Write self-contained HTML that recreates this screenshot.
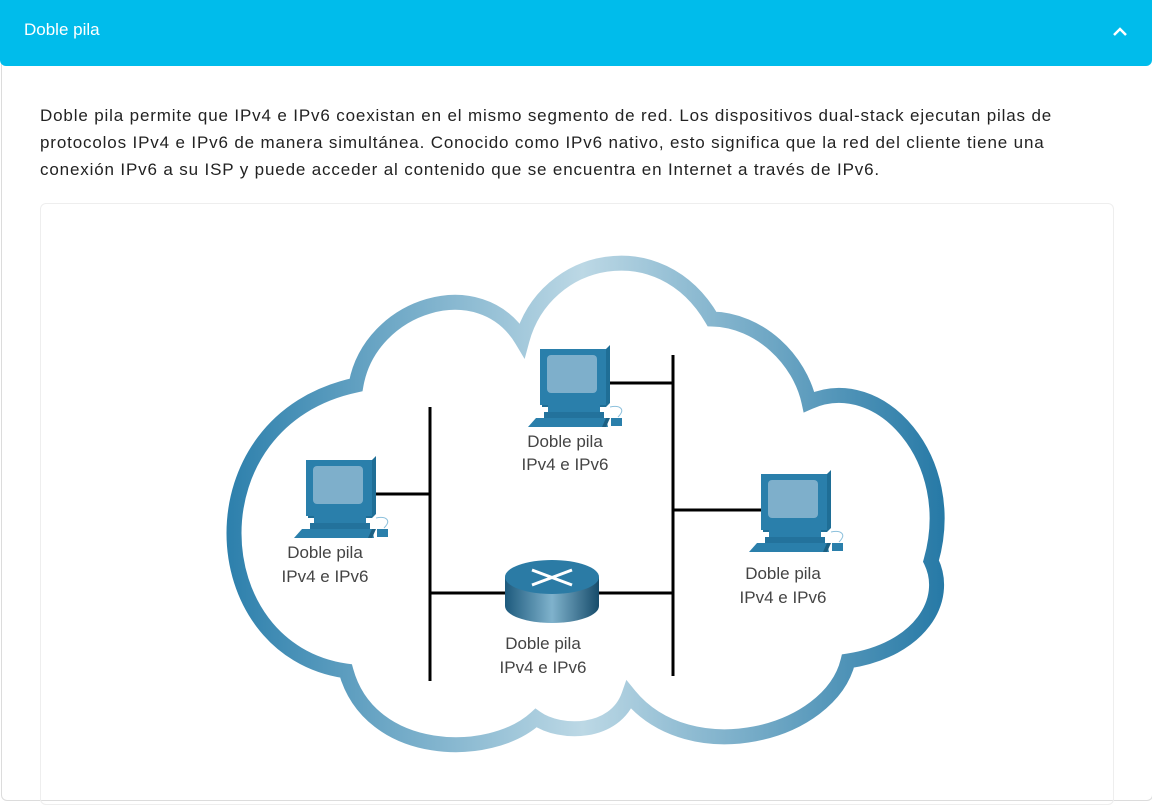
<!DOCTYPE html>
<html><head><meta charset="utf-8"><style>
body{margin:0;width:1152px;height:778px;overflow:hidden;background:#fff;font-family:"Liberation Sans",sans-serif;}
.panel{position:absolute;left:1px;top:0;width:1150px;height:800px;border:1px solid #dcdcdc;border-top:none;border-radius:6px;}
.hdr{position:absolute;left:0;top:0;width:1152px;height:66px;background:#00bceb;border-radius:0 0 6px 6px;}
.hdr span{position:absolute;left:24px;top:20px;color:#fff;font-size:17px;}
.txt{position:absolute;left:40px;top:102px;width:1035px;font-size:17px;line-height:27px;color:#222;letter-spacing:0.85px;}
.box{position:absolute;left:40px;top:203px;width:1072px;height:600px;border:1px solid #eee;border-radius:6px;}
svg{position:absolute;left:0;top:0;}
</style></head><body>
<div class="panel"></div>
<div class="hdr"><span>Doble pila</span>
<svg width="1152" height="66"><polyline points="1114,35 1120,29 1126,35" fill="none" stroke="#fff" stroke-width="2.5"/></svg></div>
<div class="txt">Doble pila permite que IPv4 e IPv6 coexistan en el mismo segmento de red. Los dispositivos dual-stack ejecutan pilas de protocolos IPv4 e IPv6 de manera simultánea. Conocido como IPv6 nativo, esto significa que la red del cliente tiene una conexión IPv6 a su ISP y puede acceder al contenido que se encuentra en Internet a través de IPv6.</div>
<div class="box"></div>
<svg width="1152" height="778">
<defs>
<linearGradient id="cg" gradientUnits="userSpaceOnUse" x1="220" y1="0" x2="945" y2="0">
<stop offset="0" stop-color="#2a7eab"/><stop offset="0.5" stop-color="#bcd8e5"/><stop offset="1" stop-color="#2679a6"/></linearGradient>
<linearGradient id="rg" x1="0" x2="1"><stop offset="0" stop-color="#1d5a7d"/><stop offset="0.5" stop-color="#7fb2cc"/><stop offset="1" stop-color="#174c6b"/></linearGradient>
<g id="pc">
<path d="M2,2 L66,2 L70,-2 L70,56 L66,60 L2,60 Z" fill="#1f6e96"/>
<rect x="0" y="2" width="66" height="56" fill="#2a7fab"/>
<rect x="7" y="8" width="50" height="38" rx="4" fill="#7eafcb"/>
<rect x="8" y="58" width="52" height="7" fill="#2a7fab"/>
<rect x="4" y="65" width="60" height="6" fill="#23729c"/>
<path d="M-4,71 L66,71 L68,80 L-12,80 Z" fill="#2a7fab"/>
<path d="M62,80 L66,80 L70,71 L66,71Z" fill="#1b5f82"/>
<rect x="71" y="71" width="11" height="8" fill="#2a7fab"/>
<path d="M70,60 C80,58 86,62 78,70" fill="none" stroke="#8cc0dc" stroke-width="1"/>
</g>
</defs>
<path d="M356,385 C370,305 480,270 522,340 C545,255 660,230 712,319 C760,320 800,360 809,402 C880,370 960,460 931,561 C950,600 920,650 848,661 C830,735 690,770 629,695 C615,735 560,735 536,718 C490,760 370,758 346,671 C200,650 190,420 356,385 Z" fill="none" stroke="url(#cg)" stroke-width="15"/>
<g stroke="#000" stroke-width="3">
<line x1="430" y1="407" x2="430" y2="681"/>
<line x1="673" y1="355" x2="673" y2="676"/>
<line x1="600" y1="383" x2="673" y2="383"/>
<line x1="366" y1="494" x2="430" y2="494"/>
<line x1="673" y1="510" x2="765" y2="510"/>
<line x1="430" y1="593" x2="673" y2="593"/>
</g>
<use href="#pc" x="540" y="347"/>
<use href="#pc" x="306" y="458"/>
<use href="#pc" x="761" y="472"/>
<path d="M505,577 L505,606 A47,17 0 0 0 599,606 L599,577 Z" fill="url(#rg)"/>
<ellipse cx="552" cy="577" rx="47" ry="17" fill="#2b7ba5"/>
<g stroke="#fff" stroke-width="3" fill="#fff">
<line x1="532" y1="570" x2="572" y2="585"/><line x1="572" y1="570" x2="532" y2="585"/>
</g>
<g font-family="Liberation Sans,sans-serif" font-size="17" fill="#444" text-anchor="middle">
<text x="565" y="447">Doble pila</text><text x="565" y="470">IPv4 e IPv6</text>
<text x="325" y="558">Doble pila</text><text x="325" y="582">IPv4 e IPv6</text>
<text x="783" y="579">Doble pila</text><text x="783" y="603">IPv4 e IPv6</text>
<text x="543" y="649">Doble pila</text><text x="543" y="673">IPv4 e IPv6</text>
</g>
</svg>
</body></html>
